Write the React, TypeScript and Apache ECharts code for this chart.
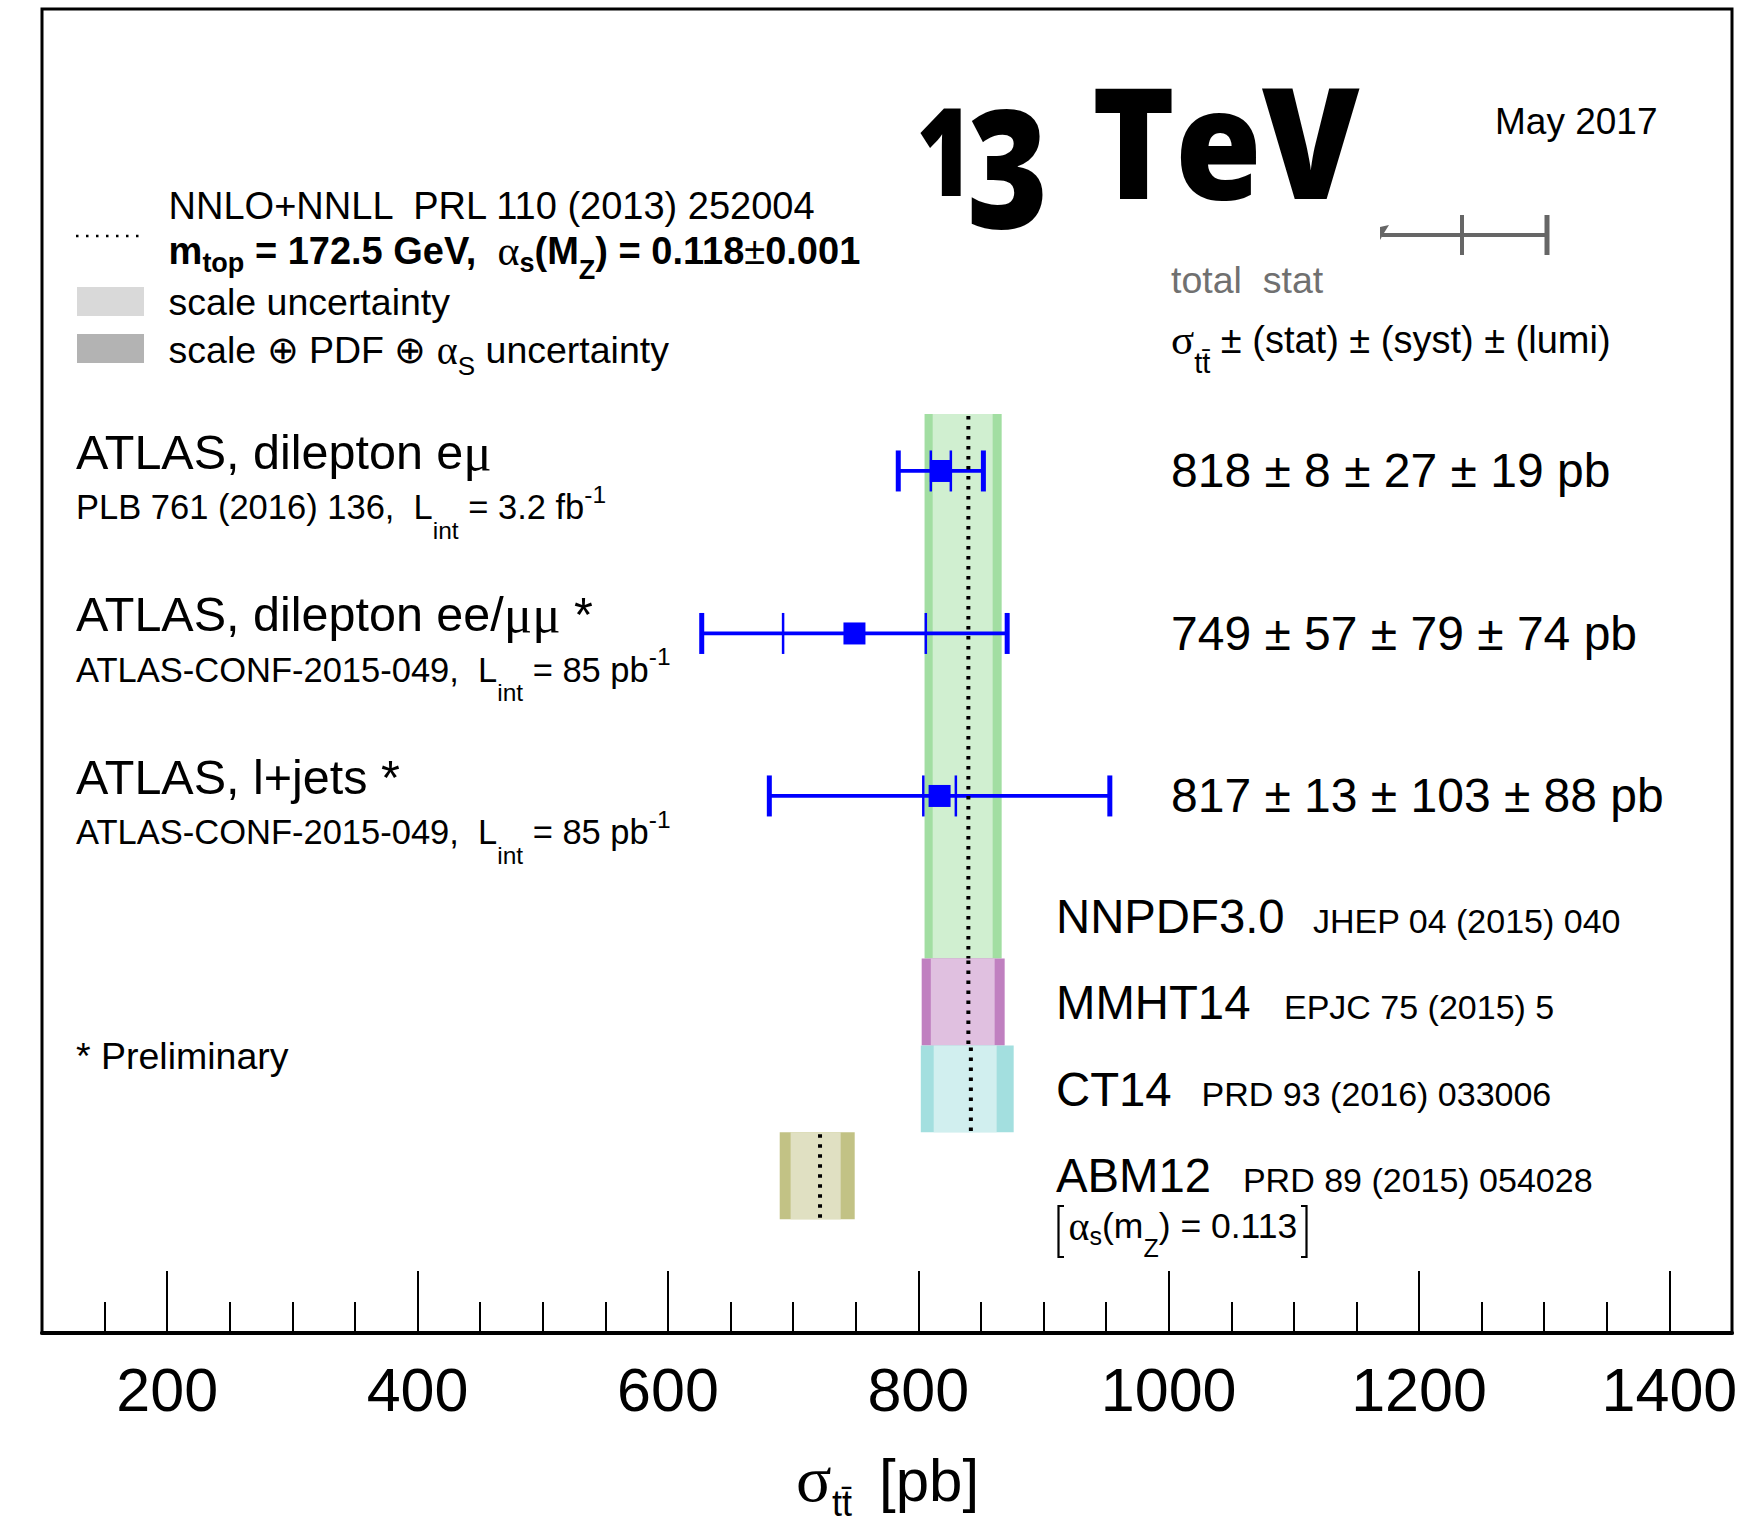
import React, { useEffect, useRef } from "react";
import * as echarts from "echarts";

const SANS = '"Liberation Sans", Arial, Helvetica, sans-serif';
const SERIF = '"Liberation Serif", "DejaVu Serif", serif';
const HEAVY = '"Open Sans", "Liberation Sans", sans-serif';

// ---------- axis ----------
const X_MIN = 100;
const X_MAX = 1450;
const MINOR_STEP = 50;
const MAJOR_MIN = 200;
const MAJOR_MAX = 1400;
const MAJOR_STEP = 200;
const ROW_MIN = -1.843;
const ROW_MAX = 6.305;

// ---------- measurements ----------
const measTitles = ["ATLAS, dilepton e{g|μ}", "ATLAS, dilepton ee/{g|μμ} *", "ATLAS, l+jets *"];
const measRefs = ["PLB 761 (2016) 136,", "ATLAS-CONF-2015-049,", "ATLAS-CONF-2015-049,"];
const measLumiText = ["3.2 fb", "85 pb", "85 pb"];
const measCentral = [818, 749, 817];
const measStat = [8, 57, 13];
const measSyst = [27, 79, 103];
const measLumi = [19, 74, 88];
const measTotal = [34, 122, 136];
const measRow = [1, 2, 3];

// ---------- predictions ----------
const pdfNames = ["NNPDF3.0", "MMHT14", "CT14", "ABM12"];
const pdfRefs = ["JHEP 04 (2015) 040", "EPJC 75 (2015) 5", "PRD 93 (2016) 033006", "PRD 89 (2015) 054028"];
const pdfCentral = [840, 840, 842, 721.5];
const pdfScaleLo = [811.5, 810, 812.3, 698];
const pdfScaleHi = [859.4, 861, 862.6, 738];
const pdfTotLo = [805, 802.7, 802, 689.3];
const pdfTotHi = [866.6, 869, 876.2, 749.2];
const pdfRowTop = [0.65, 4.0, 4.535, 5.07];
const pdfRowBottom = [4.0, 4.535, 5.07, 5.605];
const pdfDark = ["#a2dea2", "#c080c0", "#a3dfdf", "#c2c285"];
const pdfLight = ["#d0efd0", "#e0c0e0", "#d1efef", "#e0e0c2"];

// ---------- layout (pixels) ----------
const GRID_L = 42;
const GRID_R = 19;
const GRID_T = 9;
const GRID_B = 189;
const PX_PER = (1751 - GRID_L - GRID_R) / (X_MAX - X_MIN);

function txt(x: number, y: number, text: string, size: number, extra: any = {}, rich?: any, el: any = {}) {
  const style: any = {
    text,
    fontSize: size,
    fontFamily: SANS,
    fontWeight: "normal",
    fill: "#000",
    align: "left",
    verticalAlign: "middle",
    textAlign: "left",
    textVerticalAlign: "middle",
    ...extra,
  };
  if (extra.align) style.textAlign = extra.align;
  if (rich) style.rich = rich;
  return { type: "text", x, y, silent: true, style, ...el };
}

function ri(size: number, family = SANS, weight = "normal", padding?: number[]) {
  const o: any = { fontSize: size, fontFamily: family, fontWeight: weight, fill: "#000", verticalAlign: "middle" };
  if (padding) o.padding = padding;
  return o;
}

function buildOption() {
  const g: any[] = [];

  // ---- top-left legend ----
  g.push({ type: "line", silent: true, shape: { x1: 76, y1: 236, x2: 146, y2: 236 }, style: { stroke: "#000", lineWidth: 2.5, lineDash: [2.5, 7.5] } });
  g.push({ type: "rect", silent: true, shape: { x: 77, y: 287, width: 67, height: 29 }, style: { fill: "#d9d9d9" } });
  g.push({ type: "rect", silent: true, shape: { x: 77, y: 334, width: 67, height: 29 }, style: { fill: "#b3b3b3" } });
  g.push(txt(168.6, 206, "NNLO+NNLL  PRL 110 (2013) 252004", 38));
  g.push(
    txt(168.6, 251, "m{st|top} = 172.5 GeV,  {ga|α}{ss|s}(M{sz|Z}) = 0.118{pm|±}0.001", 38, { fontWeight: "bold" }, {
      st: ri(27, SANS, "bold", [24, 0, 0, 0]),
      ga: ri(42, SERIF, "normal"),
      ss: ri(27, SANS, "bold", [24, 0, 0, 0]),
      sz: ri(27, SANS, "bold", [38, 0, 0, 0]),
      pm: ri(38, SANS, "normal"),
    })
  );
  g.push(txt(168.6, 302, "scale uncertainty", 37.5));
  g.push(
    txt(168.6, 350, "scale ⊕ PDF ⊕ {ga|α}{ss|S} uncertainty", 37.5, {}, {
      ga: ri(40, SERIF),
      ss: ri(26, SANS, "normal", [32, 0, 0, 0]),
    })
  );

  // ---- 13 TeV + date ----
  g.push(txt(944.5, 148, "1", 123, { fontFamily: HEAVY, fontWeight: 800, align: "center" }, undefined, { scaleX: 0.78 }));
  g.push(txt(1007.5, 164, "3", 165, { fontFamily: HEAVY, fontWeight: 800, align: "center" }, undefined, { scaleX: 0.84 }));
  g.push(txt(1092, 139, "TeV", 154, { fontFamily: HEAVY, fontWeight: 800 }, undefined, { scaleX: 0.913 }));
  g.push(txt(1495, 121, "May 2017", 37));

  // ---- error-bar legend ----
  const GR = "#666666";
  g.push({ type: "line", silent: true, shape: { x1: 1382, y1: 235, x2: 1547, y2: 235 }, style: { stroke: GR, lineWidth: 4 } });
  g.push({ type: "line", silent: true, shape: { x1: 1462, y1: 215, x2: 1462, y2: 255 }, style: { stroke: GR, lineWidth: 4 } });
  g.push({ type: "line", silent: true, shape: { x1: 1547, y1: 215, x2: 1547, y2: 255 }, style: { stroke: GR, lineWidth: 5 } });
  g.push({ type: "polygon", silent: true, shape: { points: [[1380, 240], [1380, 227], [1389, 225], [1384, 233]] }, style: { fill: GR } });
  g.push(txt(1171, 280, "total  stat", 37.5, { fill: "#707070" }));
  g.push(
    txt(1171, 339.5, "{gs|σ}{st|tt\u0304} ± (stat) ± (syst) ± (lumi)", 38, {}, {
      gs: ri(43, SERIF),
      st: ri(29, SANS, "normal", [46, 0, 0, 0]),
    })
  );

  // ---- measurement labels ----
  const rowPx = (r: number) => GRID_T + (r - ROW_MIN) * ((1522 - GRID_T - GRID_B) / (ROW_MAX - ROW_MIN));
  measRow.forEach((r, i) => {
    const y = rowPx(r);
    g.push(txt(76, y - 19.3, measTitles[i], 48.5, {}, { g: ri(53, SERIF) }));
    g.push(
      txt(76, y + 36.5, `${measRefs[i]}  L{sb|int} = ${measLumiText[i]}{sp|-1}`, 34.5, {}, {
        sb: ri(24.5, SANS, "normal", [46, 0, 0, 0]),
        sp: ri(24.5, SANS, "normal", [0, 0, 26, 0]),
      })
    );
    g.push(txt(1171, y, `${measCentral[i]} ± ${measStat[i]} ± ${measSyst[i]} ± ${measLumi[i]} pb`, 48));
  });
  g.push(txt(76, 1056, "* Preliminary", 37.5));

  // ---- PDF labels ----
  const pdfLabelY = [916.8, 1002.8, 1089.9, 1175.9];
  const pdfRefX = [1313, 1284, 1201.6, 1242.9];
  pdfNames.forEach((n, i) => {
    g.push(txt(1056, pdfLabelY[i], n, 47.3));
    g.push(txt(pdfRefX[i], pdfLabelY[i] + 4.5, pdfRefs[i], 34));
  });
  g.push(
    txt(1068.6, 1226, "{ga|α}{ss|s}(m{sz|Z}) = 0.113", 35.5, {}, {
      ga: ri(40, SERIF),
      ss: ri(25, SANS, "normal", [20, 0, 0, 0]),
      sz: ri(25, SANS, "normal", [44, 0, 0, 0]),
    })
  );
  g.push({ type: "polyline", silent: true, shape: { points: [[1064, 1206], [1058.5, 1206], [1058.5, 1257], [1064, 1257]] }, style: { stroke: "#000", lineWidth: 2.2, fill: null } });
  g.push({ type: "polyline", silent: true, shape: { points: [[1301, 1206], [1306.5, 1206], [1306.5, 1257], [1301, 1257]] }, style: { stroke: "#000", lineWidth: 2.2, fill: null } });

  // ---- axis title ----
  g.push(txt(796, 1478, "σ", 66, { fontFamily: SERIF }));
  g.push(txt(832, 1503, "tt\u0304", 36));
  g.push(txt(879, 1480, "[pb]", 60));

  const CAP = 20.5;

  return {
    animation: false,
    backgroundColor: "#ffffff",
    grid: [
      { left: GRID_L, right: GRID_R, top: GRID_T, bottom: GRID_B, show: true, borderColor: "#000", borderWidth: 3, backgroundColor: "rgba(0,0,0,0)", containLabel: false, outerBoundsMode: "none" },
      { left: GRID_L + (MAJOR_MIN - X_MIN) * PX_PER, right: GRID_R + (X_MAX - MAJOR_MAX) * PX_PER, top: GRID_T, bottom: GRID_B, show: false, containLabel: false, outerBoundsMode: "none" },
    ],
    xAxis: [
      {
        type: "value", gridIndex: 0, min: X_MIN, max: X_MAX, interval: MINOR_STEP,
        axisLine: { show: true, onZero: false, lineStyle: { color: "#000", width: 4 } },
        axisTick: { show: true, inside: true, length: 31, lineStyle: { color: "#000", width: 2 } },
        axisLabel: { show: false },
        splitLine: { show: false },
      },
      {
        type: "value", gridIndex: 1, min: MAJOR_MIN, max: MAJOR_MAX, interval: MAJOR_STEP,
        axisLine: { show: false, onZero: false },
        axisTick: { show: true, inside: true, length: 62, lineStyle: { color: "#000", width: 2 } },
        axisLabel: { show: true, margin: 26, fontSize: 61, fontFamily: SANS, color: "#000", formatter: (v: number) => String(v) },
        splitLine: { show: false },
      },
    ],
    yAxis: [
      { type: "value", gridIndex: 0, min: ROW_MIN, max: ROW_MAX, inverse: true, show: false },
      { type: "value", gridIndex: 1, min: 0, max: 1, show: false },
    ],
    graphic: { elements: g },
    series: [
      {
        type: "custom", name: "bands", xAxisIndex: 0, yAxisIndex: 0, z: 1, silent: true,
        data: pdfNames.map((_, i) => [pdfTotLo[i], pdfTotHi[i], pdfScaleLo[i], pdfScaleHi[i], pdfRowTop[i], pdfRowBottom[i]]),
        renderItem: (params: any, api: any) => {
          const i = params.dataIndex;
          const a = api.coord([api.value(0), api.value(4)]);
          const b = api.coord([api.value(1), api.value(5)]);
          const c = api.coord([api.value(2), api.value(4)]);
          const d = api.coord([api.value(3), api.value(5)]);
          return {
            type: "group",
            children: [
              { type: "rect", shape: { x: a[0], y: a[1], width: b[0] - a[0], height: b[1] - a[1] }, style: { fill: pdfDark[i] } },
              { type: "rect", shape: { x: c[0], y: c[1], width: d[0] - c[0], height: d[1] - c[1] }, style: { fill: pdfLight[i] } },
            ],
          };
        },
      },
      {
        type: "custom", name: "errors", xAxisIndex: 0, yAxisIndex: 0, z: 2, silent: true,
        data: measCentral.map((c, i) => [c, measStat[i], measTotal[i], measRow[i]]),
        renderItem: (params: any, api: any) => {
          const c = api.value(0), s = api.value(1), t = api.value(2), r = api.value(3);
          const L = api.coord([c - t, r]);
          const R = api.coord([c + t, r]);
          const sL = api.coord([c - s, r]);
          const sR = api.coord([c + s, r]);
          const blue = "#0000ff";
          return {
            type: "group",
            children: [
              { type: "line", shape: { x1: L[0], y1: L[1], x2: R[0], y2: R[1] }, style: { stroke: blue, lineWidth: 3.8 } },
              { type: "line", shape: { x1: L[0], y1: L[1] - CAP, x2: L[0], y2: L[1] + CAP }, style: { stroke: blue, lineWidth: 5 } },
              { type: "line", shape: { x1: R[0], y1: R[1] - CAP, x2: R[0], y2: R[1] + CAP }, style: { stroke: blue, lineWidth: 5 } },
              { type: "line", shape: { x1: sL[0], y1: sL[1] - CAP, x2: sL[0], y2: sL[1] + CAP }, style: { stroke: blue, lineWidth: 2.5 } },
              { type: "line", shape: { x1: sR[0], y1: sR[1] - CAP, x2: sR[0], y2: sR[1] + CAP }, style: { stroke: blue, lineWidth: 2.5 } },
            ],
          };
        },
      },
      {
        type: "custom", name: "central", xAxisIndex: 0, yAxisIndex: 0, z: 3, silent: true,
        data: pdfNames.map((_, i) => [pdfCentral[i], pdfRowTop[i], pdfRowBottom[i]]),
        renderItem: (params: any, api: any) => {
          const a = api.coord([api.value(0), api.value(1)]);
          const b = api.coord([api.value(0), api.value(2)]);
          return { type: "line", shape: { x1: a[0], y1: a[1] + 2, x2: b[0], y2: b[1] }, style: { stroke: "#000", lineWidth: 4, lineDash: [3.5, 6.5] } };
        },
      },
      {
        type: "scatter", name: "ATLAS", xAxisIndex: 0, yAxisIndex: 0, z: 4, silent: true,
        symbol: "rect", symbolSize: 22,
        itemStyle: { color: "#0000ff", opacity: 1 },
        data: measCentral.map((c, i) => [c, measRow[i]]),
      },
    ],
  };
}

export default function App() {
  const ref = useRef<HTMLDivElement>(null);
  useEffect(() => {
    if (!ref.current) return;
    const chart = echarts.init(ref.current, null, { renderer: "svg" });
    chart.setOption(buildOption() as any);
    return () => chart.dispose();
  }, []);
  return (
    <div
      ref={ref}
      style={{ position: "absolute", left: 0, top: 0, width: 1751, height: 1522, background: "#fff" }}
    />
  );
}
